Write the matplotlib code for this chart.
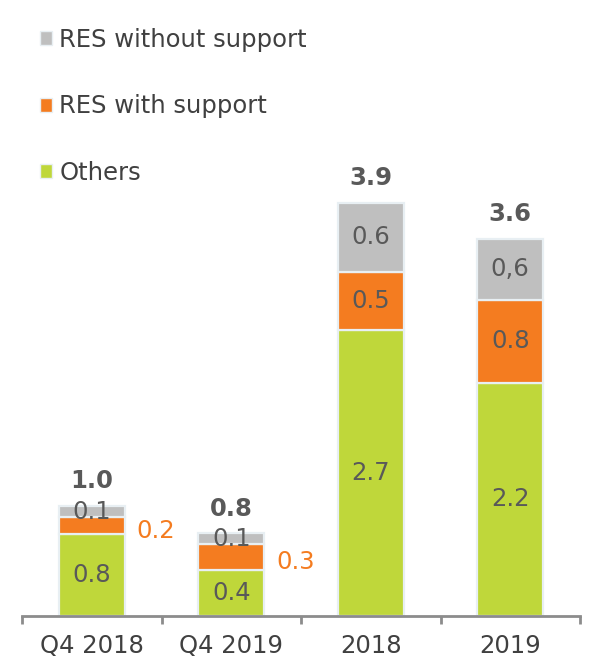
import matplotlib
matplotlib.use("Agg")
import matplotlib.pyplot as plt
from matplotlib.patches import Patch
import numpy as np

categories = ["Q4 2018", "Q4 2019", "2018", "2019"]
others = [0.77, 0.43, 2.70, 2.20]
with_support = [0.16, 0.25, 0.55, 0.78]
without_support = [0.11, 0.10, 0.65, 0.58]
others_lbl = ["0.8", "0.4", "2.7", "2.2"]
with_lbl = ["0.2", "0.3", "0.5", "0.8"]
without_lbl = ["0.1", "0.1", "0.6", "0,6"]
total_lbl = ["1.0", "0.8", "3.9", "3.6"]

c_green = "#bfd73a"
c_orange = "#f47c20"
c_gray = "#bfbfbf"
c_text = "#595959"
edge = "#e8eff3"

fig = plt.figure(figsize=(5.96, 6.56), dpi=100)
ax = fig.add_axes([22/596, 40/656, 558/596, 616/656])
x = np.arange(len(categories))
w = 0.47
ax.bar(x, others, w, color=c_green, edgecolor=edge, linewidth=1.6)
ax.bar(x, with_support, w, bottom=others, color=c_orange, edgecolor=edge, linewidth=1.6)
bot3 = np.array(others) + np.array(with_support)
ax.bar(x, without_support, w, bottom=bot3, color=c_gray, edgecolor=edge, linewidth=1.6)
tot = bot3 + np.array(without_support)

ax.set_xlim(-0.5, 3.5)
ax.set_ylim(0, 616/106)
for s in ["top", "right", "left"]:
    ax.spines[s].set_visible(False)
ax.spines["bottom"].set_color("#8c8c8c")
ax.spines["bottom"].set_linewidth(2)
ax.set_yticks([])
ax.set_xticks(x)
fs = 17.5
ax.set_xticklabels(categories, fontsize=fs, color="#404040")
ax.tick_params(axis="x", which="major", length=0, pad=13)
ax.set_xticks(np.arange(-0.5, 4.0, 1.0), minor=True)
ax.tick_params(axis="x", which="minor", length=6, width=2, color="#8c8c8c", direction="out")

for i in range(4):
    ax.text(x[i], others[i] / 2, others_lbl[i], ha="center", va="center", fontsize=fs, color=c_text)
    if i >= 2:
        ax.text(x[i], others[i] + with_support[i] / 2, with_lbl[i], ha="center", va="center", fontsize=fs, color=c_text)
    else:
        ax.text(x[i] + 0.46, others[i] + with_support[i] / 2 - 0.05, with_lbl[i], ha="center", va="center", fontsize=fs, color=c_orange)
    ax.text(x[i], bot3[i] + without_support[i] / 2, without_lbl[i], ha="center", va="center", fontsize=fs, color=c_text)
    ax.annotate(total_lbl[i], (x[i], tot[i]), xytext=(0, 9), textcoords="offset points",
                ha="center", va="bottom", fontsize=fs, fontweight="bold", color=c_text)

handles = [Patch(facecolor=c_gray, edgecolor=edge), Patch(facecolor=c_orange, edgecolor=edge), Patch(facecolor=c_green, edgecolor=edge)]
labels = ["RES without support", "RES with support", "Others"]
fig.legend(handles, labels, loc="upper left", bbox_to_anchor=(30/596, 1 - 18/656), frameon=False,
           fontsize=fs, labelcolor="#404040", handlelength=0.5, handleheight=0.5,
           handletextpad=0.3, labelspacing=1.75, borderaxespad=0)
fig.savefig("out.png", dpi=100)
